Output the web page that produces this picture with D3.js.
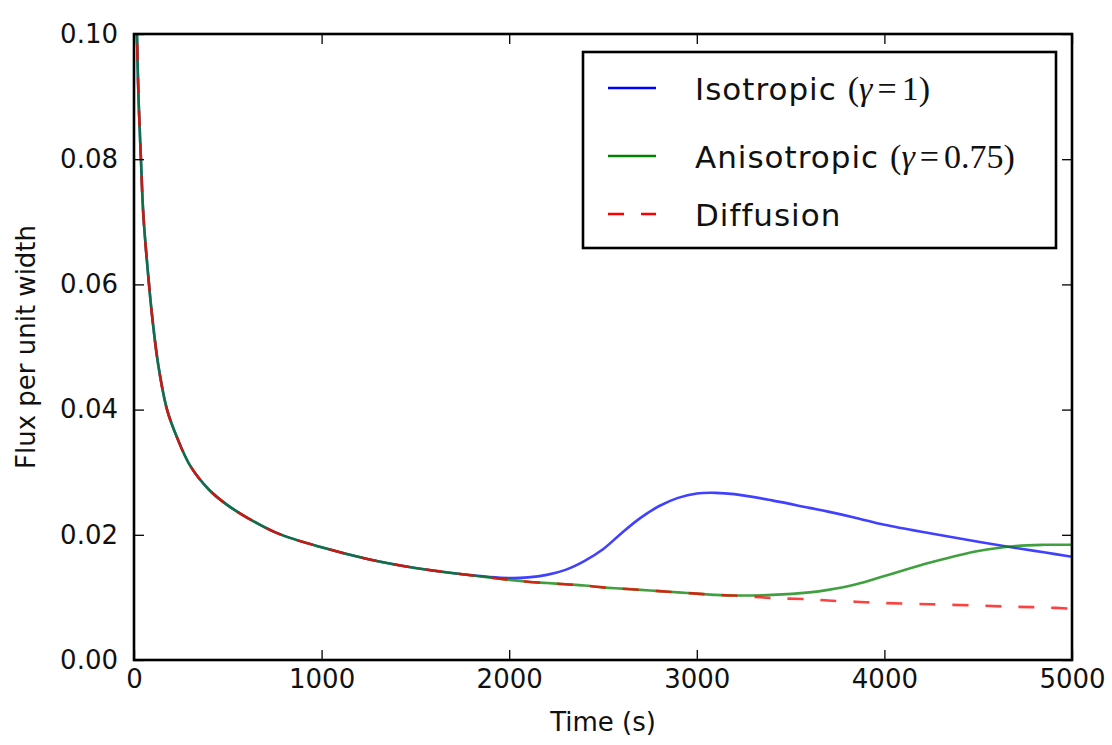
<!DOCTYPE html>
<html>
<head>
<meta charset="utf-8">
<script src="https://cdn.jsdelivr.net/npm/d3@7"></script>
<style>
  body { margin: 0; background: #fff; }
  svg text { font-family: "DejaVu Sans", sans-serif; fill: #111; }
</style>
</head>
<body>
<div id="chart"></div>
<script>
// values
var timeS = [8, 16, 25, 37, 50, 80, 100, 130, 176, 230, 300, 400, 500, 600, 760, 1000, 1250, 1500, 1750,
    2000, 2100, 2200, 2300, 2400, 2500, 2600, 2700, 2800, 2900, 3000, 3100, 3200, 3400, 3600, 3700,
    3850, 4000, 4250, 4500, 4700, 4850, 5000];

var diffusionFlux = [0.13, 0.100, 0.089, 0.080, 0.071, 0.060, 0.054, 0.047, 0.040, 0.0355, 0.031, 0.0272,
    0.0247, 0.0228, 0.0203, 0.0180, 0.0161, 0.0147, 0.0137,
    0.0128, 0.0125, 0.0123, 0.0121, 0.0119, 0.0116, 0.0114, 0.0112, 0.0110, 0.0108, 0.0106, 0.0104,
    0.0103, 0.0099, 0.0097, 0.0095, 0.0093, 0.0091, 0.0089, 0.0087, 0.0085, 0.0084, 0.0082];

var isoFlux = [0.13, 0.100, 0.089, 0.080, 0.071, 0.060, 0.054, 0.047, 0.040, 0.0355, 0.031, 0.0272,
    0.0247, 0.0228, 0.0203, 0.0180, 0.0161, 0.0147, 0.0137,
    0.0131, 0.0132, 0.0136, 0.0144, 0.0158, 0.0177, 0.0203, 0.0227, 0.0246, 0.0259, 0.0266, 0.0267,
    0.0265, 0.0255, 0.0243, 0.0237, 0.0227, 0.0216, 0.0202, 0.0189, 0.0179, 0.0172, 0.0165];

var anisoFlux = [0.13, 0.100, 0.089, 0.080, 0.071, 0.060, 0.054, 0.047, 0.040, 0.0355, 0.031, 0.0272,
    0.0247, 0.0228, 0.0203, 0.0180, 0.0161, 0.0147, 0.0137,
    0.0128, 0.0125, 0.0123, 0.0121, 0.0119, 0.0116, 0.0114, 0.0112, 0.0110, 0.0108, 0.0106, 0.0104,
    0.0103, 0.0104, 0.0108, 0.0112, 0.0121, 0.0134, 0.0156, 0.0174, 0.0182, 0.0184, 0.0184];

var xTicks = [0, 1000, 2000, 3000, 4000, 5000];
var yTicks = [0, 0.02, 0.04, 0.06, 0.08, 0.10];

var seriesNames = ["Isotropic", "Anisotropic", "Diffusion"];
var seriesMath = ["1", "0.75", null];
var seriesColors = ["#0000ff", "#008000", "#ff0000"];

var margin = {top: 34, right: 40, bottom: 85, left: 134};
const width = 1112 - margin.left - margin.right;
const height = 745 - margin.top - margin.bottom;

var svg = d3.select("#chart").append("svg")
    .attr("width", width + margin.left + margin.right)
    .attr("height", height + margin.top + margin.bottom)
    .append("g")
    .attr("transform", "translate(" + margin.left + "," + margin.top + ")");

const xScale = d3.scaleLinear().domain([0, 5000]).range([0, width]);
const yScale = d3.scaleLinear().domain([0, 0.1]).range([height, 0]);

svg.append("clipPath").attr("id", "plotclip")
    .append("rect").attr("width", width).attr("height", height);

// lines
var allSeries = [isoFlux, anisoFlux, diffusionFlux];
var line = d3.line()
    .x(function(d, i) { return xScale(timeS[i]); })
    .y(function(d) { return yScale(d); })
    .curve(d3.curveCatmullRom.alpha(0.5));

allSeries.forEach(function(vals, k) {
    svg.append("path")
        .datum(vals)
        .attr("clip-path", "url(#plotclip)")
        .attr("fill", "none")
        .attr("stroke", seriesColors[k])
        .attr("stroke-width", 2.6)
        .attr("stroke-opacity", 0.75)
        .attr("stroke-dasharray", k == 2 ? "16,17" : null)
        .attr("d", line);
});

// axes, ticks pointing inward on all four sides
function styleAxis(g) {
    g.select(".domain").remove();
    g.selectAll(".tick line").attr("stroke", "#000").attr("stroke-width", 1.3);
    g.selectAll("text")
        .attr("font-family", "DejaVu Sans")
        .style("font-size", "26px")
        .attr("fill", "#111");
}

svg.append("g")
    .attr("transform", "translate(0," + height + ")")
    .call(d3.axisBottom(xScale).tickValues(xTicks).tickSize(-10).tickPadding(10).tickFormat(d3.format("d")))
    .call(styleAxis);

svg.append("g")
    .call(d3.axisLeft(yScale).tickValues(yTicks).tickSize(-10).tickPadding(16).tickFormat(d3.format(".2f")))
    .call(styleAxis);

svg.append("g")
    .call(d3.axisTop(xScale).tickValues(xTicks).tickSize(-10).tickFormat(""))
    .call(styleAxis);

svg.append("g")
    .attr("transform", "translate(" + width + ",0)")
    .call(d3.axisRight(yScale).tickValues(yTicks).tickSize(-10).tickFormat(""))
    .call(styleAxis);

svg.append("rect")
    .attr("width", width)
    .attr("height", height)
    .attr("fill", "none")
    .attr("stroke", "#000")
    .attr("stroke-width", 2.6);

// axis labels
svg.append("text")
    .attr("x", width / 2)
    .attr("y", height + 71)
    .style("font-size", "26px")
    .style("text-anchor", "middle")
    .text("Time (s)");

svg.append("text")
    .attr("transform", "translate(-99," + (height / 2) + ") rotate(-90)")
    .style("font-size", "26px")
    .style("text-anchor", "middle")
    .text("Flux per unit width");

// legend
var legend = svg.append("g")
    .attr("transform", "translate(" + (583 - margin.left) + "," + (52 - margin.top) + ")");

legend.append("rect")
    .attr("width", 473)
    .attr("height", 196)
    .attr("fill", "#fff")
    .attr("stroke", "#000")
    .attr("stroke-width", 2.6);

var rowY = [36, 104, 162];
var mathFont = "'Liberation Serif', 'DejaVu Serif', serif";

seriesNames.forEach(function(name, k) {
    legend.append("line")
        .attr("x1", 25).attr("x2", 73)
        .attr("y1", rowY[k]).attr("y2", rowY[k])
        .attr("stroke", seriesColors[k])
        .attr("stroke-width", 2.6)
        .attr("stroke-dasharray", k == 2 ? "16,17" : null);

    var t = legend.append("text")
        .attr("x", 112)
        .attr("y", rowY[k] + 12)
        .style("font-size", "31px");
    t.append("tspan").style("letter-spacing", "1px").text(name);
    if (seriesMath[k]) {
        t.append("tspan").attr("font-family", mathFont).style("font-size", "34px").attr("dx", 11).text("(");
        t.append("tspan").attr("font-family", mathFont).style("font-size", "34px").style("font-style", "italic").text("\u03b3");
        t.append("tspan").attr("font-family", mathFont).style("font-size", "34px").attr("dx", 5).text("=");
        t.append("tspan").attr("font-family", mathFont).style("font-size", "34px").attr("dx", 5).text(seriesMath[k] + ")");
    }
});
</script>
</body>
</html>
